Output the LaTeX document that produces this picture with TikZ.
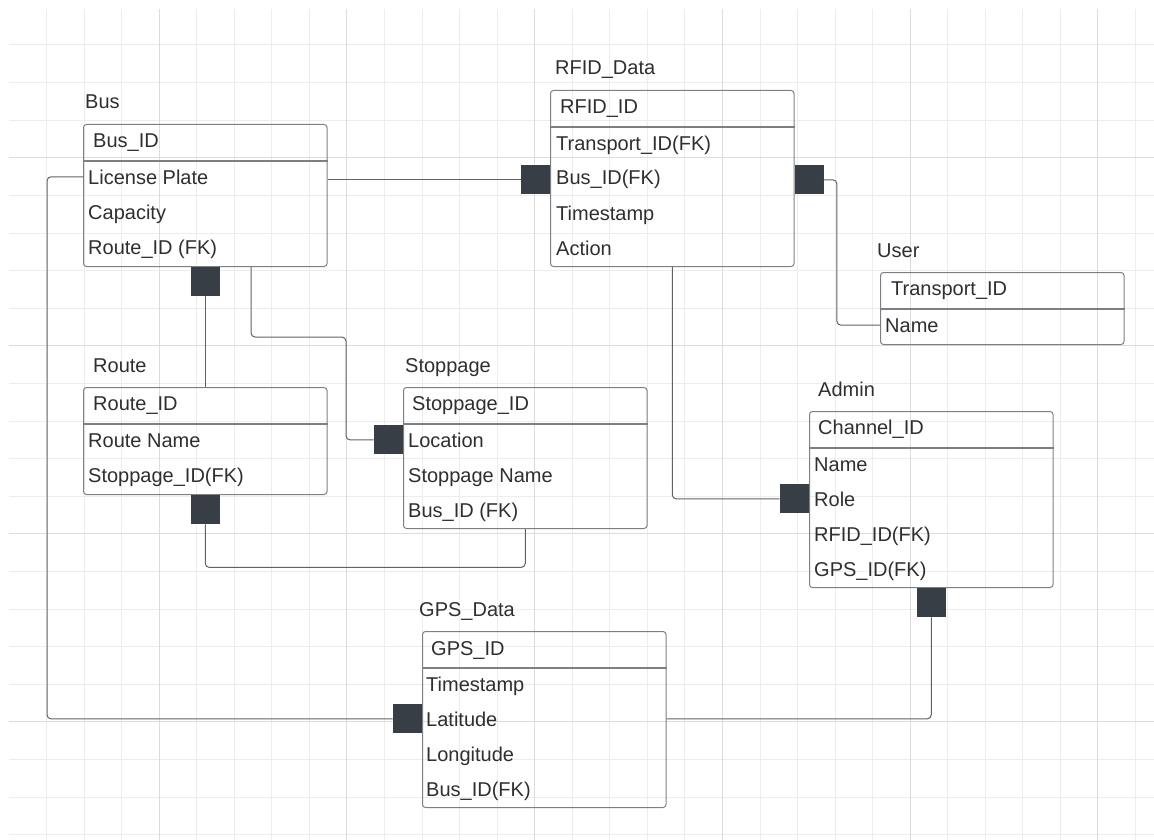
\documentclass[tikz,border=0pt]{standalone}
\usepackage{fontspec}
\setmainfont{Liberation Sans}
\usetikzlibrary{positioning}
\definecolor{gridmin}{HTML}{EDEDED}
\definecolor{gridmaj}{HTML}{DCDCDC}
\definecolor{boxline}{HTML}{7C8086}
\definecolor{linkline}{HTML}{5F6369}
\definecolor{keyfill}{HTML}{383E45}
\definecolor{txt}{HTML}{2F2F2F}

\begin{document}
\begin{tikzpicture}[
		x=1pt, y=-1pt,
		font=\fontsize{20}{24}\selectfont,
		node distance=0pt,
		tbl/.style={draw=boxline, line width=1pt, rounded corners=3pt, anchor=north west, minimum width=243.5pt, inner sep=0pt},
		sep/.style={draw=boxline, line width=1.6pt},
		ttl/.style={anchor=base west, inner sep=0pt, text=txt},
		fld/.style={anchor=base west, inner sep=0pt, text=txt},
		fk/.style={fill=keyfill, minimum size=29pt, inner sep=0pt},
		ln/.style={draw=linkline, line width=1pt, rounded corners=4pt},
	]
		\useasboundingbox (0,0) rectangle (1154,840);
		\fill[white] (0,0) rectangle (1154,840);

		% grid
		\foreach \i in {1,...,30}
			\draw[gridmin, line width=1pt] (9+37.55*\i,9) -- (9+37.55*\i,840);
		\foreach \j in {1,...,22}
			\draw[gridmin, line width=1pt] (9,7.4+37.6*\j) -- (1154,7.4+37.6*\j);
		\foreach \i in {4,9,...,29}
			\draw[gridmaj, line width=1pt] (9+37.55*\i,9) -- (9+37.55*\i,840);
		\foreach \j in {4,9,14,19}
			\draw[gridmaj, line width=1pt] (9,7.4+37.6*\j) -- (1154,7.4+37.6*\j);

		% Bus
		\node[tbl, minimum height=142pt] (bus) at (83,124) {};
		\draw[sep] ([yshift=-37pt]bus.north west) -- ([yshift=-37pt]bus.north east);
		\node[ttl] (bus-t) at ([xshift=2pt, yshift=15pt]bus.north west) {Bus};
		\node[fld] (bus-k) at ([xshift=10pt, yshift=-23pt]bus.north west) {Bus\_ID};
		\foreach \t [count=\i] in {License Plate, Capacity, Route\_ID (FK)}
			\node[fld] (bus-\i) at ([xshift=5pt, yshift={-25pt-35pt*\i}]bus.north west) {\t};

		% RFID_Data
		\node[tbl, minimum height=176pt] (rfid) at (550,90) {};
		\draw[sep] ([yshift=-37pt]rfid.north west) -- ([yshift=-37pt]rfid.north east);
		\node[ttl] (rfid-t) at ([xshift=5pt, yshift=15pt]rfid.north west) {RFID\_Data};
		\node[fld] (rfid-k) at ([xshift=10pt, yshift=-24pt]rfid.north west) {RFID\_ID};
		\foreach \t [count=\i] in {Transport\_ID(FK), Bus\_ID(FK), Timestamp, Action}
			\node[fld] (rfid-\i) at ([xshift=6pt, yshift={-25pt-35pt*\i}]rfid.north west) {\t};

		% User
		\node[tbl, minimum height=72pt] (user) at (880,272) {};
		\draw[sep] ([yshift=-37pt]user.north west) -- ([yshift=-37pt]user.north east);
		\node[ttl] (user-t) at ([xshift=-3pt, yshift=15pt]user.north west) {User};
		\node[fld] (user-k) at ([xshift=11pt, yshift=-23pt]user.north west) {Transport\_ID};
		\node[fld] (user-1) at ([xshift=5pt, yshift=-60pt]user.north west) {Name};

		% Route
		\node[tbl, minimum height=107pt] (route) at (83,387) {};
		\draw[sep] ([yshift=-37pt]route.north west) -- ([yshift=-37pt]route.north east);
		\node[ttl] (route-t) at ([xshift=10pt, yshift=15pt]route.north west) {Route};
		\node[fld] (route-k) at ([xshift=10pt, yshift=-23pt]route.north west) {Route\_ID};
		\foreach \t [count=\i] in {Route Name, Stoppage\_ID(FK)}
			\node[fld] (route-\i) at ([xshift=5pt, yshift={-25pt-35pt*\i}]route.north west) {\t};

		% Stoppage
		\node[tbl, minimum height=141pt] (stop) at (403,387) {};
		\draw[sep] ([yshift=-37pt]stop.north west) -- ([yshift=-37pt]stop.north east);
		\node[ttl] (stop-t) at ([xshift=2pt, yshift=15pt]stop.north west) {Stoppage};
		\node[fld] (stop-k) at ([xshift=9pt, yshift=-23pt]stop.north west) {Stoppage\_ID};
		\foreach \t [count=\i] in {Location, Stoppage Name, Bus\_ID (FK)}
			\node[fld] (stop-\i) at ([xshift=5pt, yshift={-25pt-35pt*\i}]stop.north west) {\t};

		% Admin
		\node[tbl, minimum height=176pt] (admin) at (809,411) {};
		\draw[sep] ([yshift=-37pt]admin.north west) -- ([yshift=-37pt]admin.north east);
		\node[ttl] (admin-t) at ([xshift=9pt, yshift=15pt]admin.north west) {Admin};
		\node[fld] (admin-k) at ([xshift=9pt, yshift=-23pt]admin.north west) {Channel\_ID};
		\foreach \t [count=\i] in {Name, Role, RFID\_ID(FK), GPS\_ID(FK)}
			\node[fld] (admin-\i) at ([xshift=5pt, yshift={-25pt-35pt*\i}]admin.north west) {\t};

		% GPS_Data
		\node[tbl, minimum height=176pt] (gps) at (422,631) {};
		\draw[sep] ([yshift=-37pt]gps.north west) -- ([yshift=-37pt]gps.north east);
		\node[ttl] (gps-t) at ([xshift=-3pt, yshift=15pt]gps.north west) {GPS\_Data};
		\node[fld] (gps-k) at ([xshift=9pt, yshift=-24pt]gps.north west) {GPS\_ID};
		\foreach \t [count=\i] in {Timestamp, Latitude, Longitude, Bus\_ID(FK)}
			\node[fld] (gps-\i) at ([xshift=4pt, yshift={-25pt-35pt*\i}]gps.north west) {\t};

		% key markers
		\node[fk, below=of bus] (busS) {};
		\node[fk, below=of route] (routeS) {};
		\node[fk, below=of admin] (adminS) {};
		\node[fk, anchor=east] (rfidL) at (rfid.west |- rfid-2) {};
		\node[fk, anchor=west] (rfidR) at (rfid.east |- rfid-2) {};
		\node[fk, anchor=east] (stopL) at (stop.west |- stop-1) {};
		\node[fk, anchor=east] (adminL) at (admin.west |- admin-2) {};
		\node[fk, anchor=east] (gpsL) at (gps.west |- gps-2) {};

		% links
		\draw[ln] (bus.east |- rfidL.west) -- (rfidL.west);
		\draw[ln] (bus.west |- bus-1) -- ++(-36,0) |- (gpsL.west);
		\draw[ln] (busS) -- (route);
		\draw[ln] ([xshift=168pt]bus.south west) -- ++(0,70) -- ++(95,0) |- (stopL.west);
		\draw[ln] (routeS.south) -- ++(0,43) -| (stop.south);
		\draw[ln] (rfid.south) |- (adminL.west);
		\draw[ln] (rfidR.east) -- ++(13,0) |- (user.west |- user-1);
		\draw[ln] (adminS.south) |- (gps.east |- gps-2);
	\end{tikzpicture}
\end{document}
